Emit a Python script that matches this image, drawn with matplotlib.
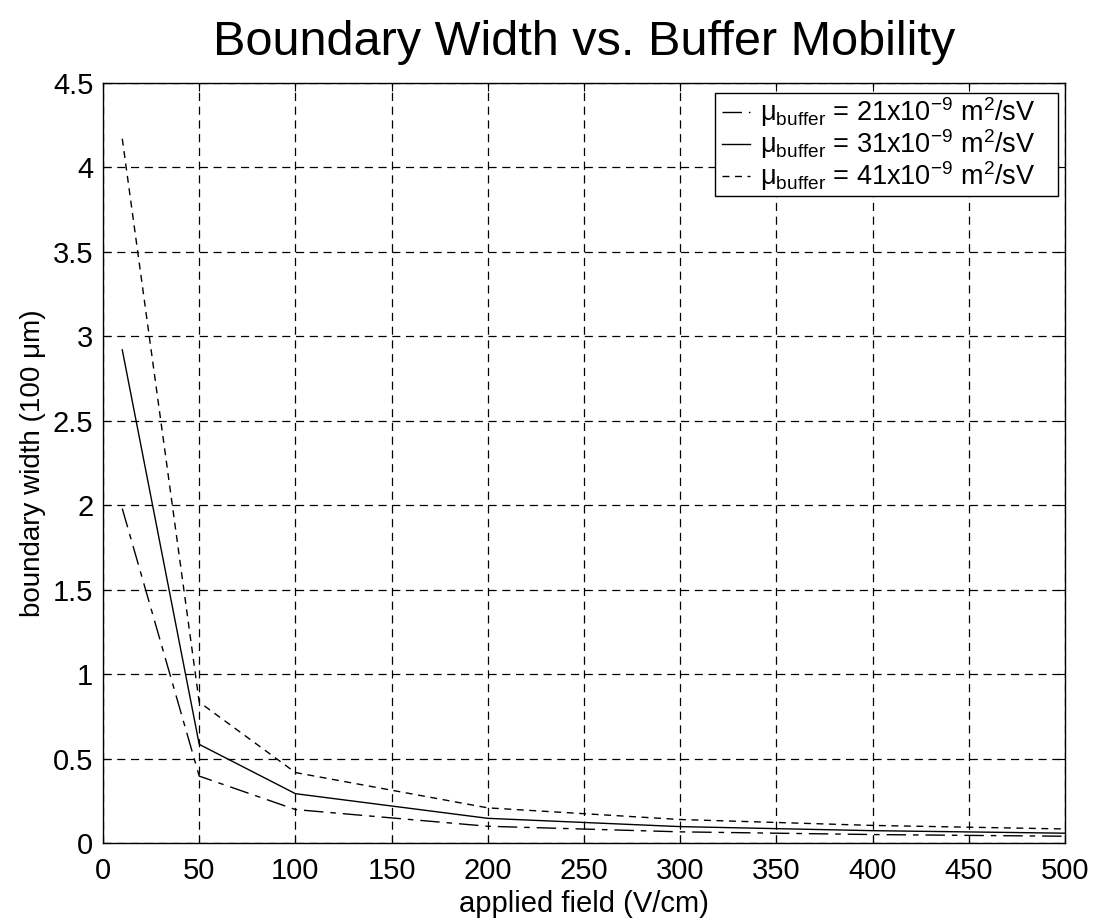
import numpy as np
import matplotlib
matplotlib.use("Agg")
import matplotlib.pyplot as plt
from matplotlib.patches import Rectangle

plt.rcParams["font.family"] = ["Liberation Sans", "DejaVu Sans"]
plt.rcParams["mathtext.fontset"] = "custom"
plt.rcParams["mathtext.rm"] = "Liberation Sans"
plt.rcParams["mathtext.it"] = "Liberation Sans"
plt.rcParams["mathtext.bf"] = "Liberation Sans:bold"

# applied field (V/cm) and boundary width (in units of 100 um)
field = [10, 50, 100, 200, 300, 400, 500]
width_21 = [1.98, 0.396, 0.198, 0.099, 0.066, 0.050, 0.040]
width_31 = [2.92, 0.584, 0.292, 0.146, 0.097, 0.073, 0.058]
width_41 = [4.17, 0.834, 0.417, 0.208, 0.139, 0.104, 0.083]

labels = [
    r"μ$_{\mathrm{buffer}}$ = 21x10$^{\mathrm{-9}}$ m$^{\mathrm{2}}$/sV",
    r"μ$_{\mathrm{buffer}}$ = 31x10$^{\mathrm{-9}}$ m$^{\mathrm{2}}$/sV",
    r"μ$_{\mathrm{buffer}}$ = 41x10$^{\mathrm{-9}}$ m$^{\mathrm{2}}$/sV",
]

fig = plt.figure(figsize=(10.96, 9.21), dpi=100)
ax = fig.add_axes([0.094, 0.0847, 0.8777, 0.8252])

ax.plot(field, width_21, color="black", lw=1.0, dashes=(14, 5, 4, 5), label=labels[0])
ax.plot(field, width_31, color="black", lw=1.0, ls="-", label=labels[1])
ax.plot(field, width_41, color="black", lw=1.0, dashes=(5, 4), label=labels[2])

ax.set_xlim(0, 500)
ax.set_ylim(0, 4.5)
ax.set_xticks(np.arange(0, 501, 50))
ax.set_yticks(np.arange(0, 4.51, 0.5))
ax.set_yticklabels(["0", "0.5", "1", "1.5", "2", "2.5", "3", "3.5", "4", "4.5"])
ax.grid(True, color="black", ls=(0, (6.5, 4.5)), lw=0.9)
ax.tick_params(direction="in", top=True, right=True, labelsize=21, length=6)
ax.tick_params(axis="x", pad=10)
ax.tick_params(axis="y", pad=7)
for sp in ax.spines.values():
    sp.set_linewidth(1.0)

ax.set_xlabel("applied field (V/cm)", fontsize=21, labelpad=4)
ax.set_ylabel("boundary width (100 μm)", fontsize=20, labelpad=5)
ax.set_title("Boundary Width vs. Buffer Mobility", fontsize=35, pad=20)

# legend box drawn separately so the right margin can be wider than the left
box = Rectangle((0.636, 0.8513), 0.3567, 0.1355, transform=ax.transAxes,
                facecolor="white", edgecolor="black", lw=1.0, zorder=4)
ax.add_patch(box)
leg = ax.legend(loc="upper left", fontsize=19.5, handlelength=1.04, handletextpad=0.37,
                labelspacing=-0.07, borderpad=0, borderaxespad=0, frameon=False,
                bbox_to_anchor=(0.6435, 0.9835))
leg.set_zorder(5)

fig.savefig("out.png", dpi=100)
